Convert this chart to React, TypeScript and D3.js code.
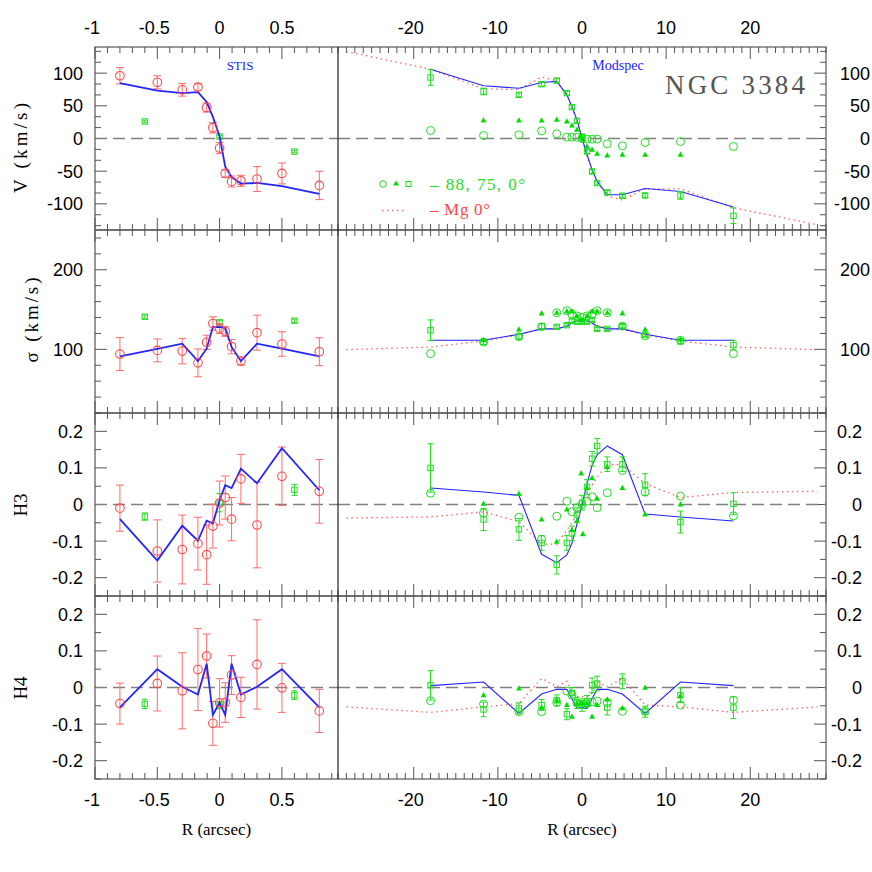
import React from 'react'
import * as d3 from 'd3'

// ---------- STIS (left column) ----------
const stisR = [-0.8, -0.5, -0.3, -0.174, -0.104, -0.054, 0, 0.045, 0.096, 0.171, 0.3, 0.5, 0.8]
const stisV = [96, 86, 74.5, 78.6, 47.4, 16.4, -14.7, -53.5, -65.7, -64.7, -62, -53.5, -71.8]
const stisVErr = [12.5, 10, 9.7, 5, 7, 8, 8.5, 5.6, 8.4, 8.4, 19, 16, 21.7]
const stisVModel = [84.7, 73.4, 69.4, 70.9, 56, 33, 3, -43, -59, -69, -68, -73, -84.6]
const stisSig = [94, 98.7, 97.8, 83, 108.9, 132.5, 126, 122.4, 103.4, 85.2, 121, 106.7, 97]
const stisSigErr = [20.7, 14.3, 16, 17.5, 8.9, 8.4, 6, 6, 9, 5, 22, 15.4, 17.5]
const stisSigModel = [91.1, 100.6, 107.2, 85.2, 100.8, 128, 128.3, 127, 103, 85.2, 107.2, 100.8, 91.1]
const stisH3 = [-0.01, -0.127, -0.123, -0.107, -0.137, -0.059, 0.004, 0.019, -0.04, 0.07, -0.056, 0.077, 0.036]
const stisH3Err = [0.063, 0.085, 0.094, 0.072, 0.081, 0.06, 0.06, 0.059, 0.059, 0.067, 0.117, 0.08, 0.087]
const stisH3Model = [-0.04, -0.153, -0.058, -0.099, -0.044, -0.052, 0.012, 0.053, 0.045, 0.098, 0.058, 0.154, 0.039]
const stisH4 = [-0.044, 0.011, -0.009, 0.049, 0.086, -0.098, -0.042, -0.041, 0.034, -0.027, 0.063, -0.001, -0.064]
const stisH4Err = [0.056, 0.075, 0.104, 0.112, 0.06, 0.06, 0.066, 0.054, 0.053, 0.055, 0.122, 0.067, 0.059]
const stisH4Model = [-0.054, 0.05, 0.002, -0.019, 0.065, -0.075, -0.041, -0.075, 0.065, -0.019, 0.002, 0.05, -0.054]

// ground-based points shown in the STIS panels
const gbR = [-0.6, 0, 0.6]
const gbV = [26, 3, -20]
const gbVErr = [2, 2, 2]
const gbSig = [141, 134, 136]
const gbSigErr = [2, 2, 2]
const gbH3 = [-0.033, 0.005, 0.04]
const gbH3Err = [0.01, 0.025, 0.015]
const gbH4 = [-0.045, -0.048, -0.021]
const gbH4Err = [0.013, 0.01, 0.012]

// ---------- Modspec (right column) ----------
// 0 deg (major axis), squares with errors, and the blue model
const modR = [-18, -11.7, -7.5, -4.8, -3.0, -1.8, -1.2, -0.6, 0, 0.6, 1.2, 1.8, 3.0, 4.8, 7.5, 11.7, 18]
const majV = [93.3, 71.9, 66.8, 83.1, 88.6, 69.4, 48, 27, 3, -19.9, -50.5, -68.2, -82.5, -87.6, -87.1, -87, -118.2]
const majVErr = [12, 5, 3, 3, 3, 3, 3, 3, 3, 3, 3, 3, 3, 3, 3, 6, 12]
const majSig = [124, 109.2, 116, 129.1, 128.3, 130.4, 135.9, 134.6, 134.6, 134.6, 137, 125.7, 125.7, 129.1, 118, 110, 105.4]
const majSigErr = [13, 3, 3, 3, 2, 2, 2, 2, 2, 2, 2, 2, 2, 2, 2, 3, 6]
const majH3 = [0.1, -0.041, -0.068, -0.105, -0.165, -0.105, -0.079, -0.029, 0.005, 0.048, 0.125, 0.16, 0.11, 0.11, 0.054, -0.048, 0.002]
const majH3Err = [0.066, 0.03, 0.03, 0.02, 0.025, 0.02, 0.02, 0.02, 0.02, 0.02, 0.02, 0.02, 0.02, 0.02, 0.03, 0.03, 0.03]
const majH4 = [0.006, -0.06, -0.057, -0.048, -0.035, -0.073, -0.015, -0.042, -0.05, -0.037, 0.006, 0.011, -0.055, 0.017, -0.066, -0.021, -0.055]
const majH4Err = [0.04, 0.02, 0.015, 0.015, 0.015, 0.015, 0.015, 0.015, 0.015, 0.015, 0.02, 0.02, 0.02, 0.02, 0.015, 0.02, 0.03]

const modVModel = [106.1, 80.6, 77, 85.7, 87.3, 66.8, 49, 28.6, 0.6, -24.9, -47.9, -65.7, -86.1, -86.1, -76.4, -81, -104.9]
const modSigModel = [111.4, 111.4, 118.9, 125.7, 125.7, 129.1, 133, 135.9, 135.9, 135.9, 133, 129.1, 125.7, 125.7, 118.9, 111.4, 111.4]
const modH3Model = [0.045, 0.034, 0.025, -0.136, -0.159, -0.138, -0.106, -0.054, -0.002, 0.057, 0.107, 0.136, 0.16, 0.136, -0.026, -0.034, -0.045]
const modH4Model = [0.005, 0.015, -0.071, -0.018, -0.005, -0.005, -0.03, -0.057, -0.055, -0.057, -0.03, -0.005, -0.005, -0.018, -0.071, 0.015, 0.005]

// 88 deg (minor axis), open circles
const minV = [12.2, 4.6, 5.6, 11.7, 7.2, 2.1, 2, 2, 0, -1, -1, -1, -8.1, -11.2, -6.1, -4.6, -12.2]
const minSig = [94.6, 109.2, 116, 128.3, 146, 148.5, 144.3, 142, 140, 142, 144.3, 148.5, 146, 129.1, 117, 111.4, 94.6]
const minH3 = [0.031, -0.023, -0.035, -0.095, -0.032, 0.009, -0.02, -0.009, 0, 0.009, 0.021, -0.009, 0.032, 0.093, 0.034, 0.023, -0.031]
const minH4 = [-0.036, -0.045, -0.066, -0.066, -0.041, -0.01, -0.02, -0.042, -0.041, -0.044, -0.039, -0.037, -0.041, -0.065, -0.065, -0.048, -0.035]

// 75 deg, filled triangles
const triR = [-11.7, -7.5, -4.8, -3.0, -1.8, -1.2, -0.6, -0.1, 0.1, 0.6, 1.2, 1.8, 3.0, 4.8, 7.5, 11.7]
const triV = [27.5, 27.5, 27.5, 28.6, 26.1, 19.9, 13.3, 4, -2, -12.2, -17.3, -23.4, -26, -25, -25, -25]
const triSig = [111.4, 124.9, 145.2, 146, 147.7, 147.7, 141.8, 136.7, 136.7, 141.8, 147.7, 147.7, 146, 145.2, 124.9, 112.4]
const triH3 = [0.002, 0.029, -0.041, -0.102, -0.014, -0.07, -0.045, 0.085, -0.081, 0.045, 0.072, 0.016, 0.102, 0.045, -0.027, 0]
const triH4 = [-0.021, -0.003, -0.055, -0.036, -0.048, -0.08, -0.044, -0.044, -0.044, -0.044, -0.08, -0.048, -0.033, -0.057, -0.001, -0.023]

// Mg model (red dotted)
const mgR = [-28, -18, -11.7, -7.5, -4.8, -3, -1.8, -1.2, -0.6, 0, 0.6, 1.2, 1.8, 3, 4.8, 7.5, 11.7, 18, 28]
const mgV = [133, 106, 76, 75, 94, 88, 66, 48, 27, 0, -27, -48, -66, -88, -94, -77, -77, -106, -132]
const mgSig = [99.6, 102.9, 110.5, 118.1, 125.7, 125.7, 130.4, 133, 135.9, 135.9, 135.9, 133, 130.4, 125.7, 125.7, 118.1, 110.5, 102.9, 99.6]
const mgH3 = [-0.037, -0.034, -0.02, -0.047, -0.108, -0.108, -0.07, -0.05, -0.025, 0, 0.03, 0.053, 0.075, 0.109, 0.109, 0.057, 0.019, 0.033, 0.036]
const mgH4 = [-0.053, -0.068, -0.053, -0.044, 0.025, 0.002, 0.017, -0.016, -0.025, -0.025, -0.025, -0.016, 0.017, 0.002, 0.025, -0.048, -0.053, -0.068, -0.053]

const leftTicks = [-1, -0.5, 0, 0.5]
const rightTicks = [-20, -10, 0, 10, 20]

// ---------- layout ----------
const X0 = 95, XD = 338, X1 = 826
const TOP = 47, PH = 183
const RED = '#ff4848'
const GREEN = '#22dd22'
const GFILL = '#00dd00'
const BLUE = '#2424ff'
const FRAME = '#555'
const SANS = 'Liberation Sans, Arial, sans-serif'
const SERIF = 'Liberation Serif, Times New Roman, serif'

const xL = d3.scaleLinear().domain([-1, 0.95]).range([X0, XD])
const xR = d3.scaleLinear().domain([-29, 29]).range([XD, X1])

const rows = [
  { title: 'V (km/s)', tx: 27, ty: 148, tl: 90, domain: [-140, 140], major: 50, minor: 50 / 3, zero: true, labelRight: 870,
    left: { y: stisV, e: stisVErr, m: stisVModel, gy: gbV, ge: gbVErr },
    right: { y: majV, e: majVErr, m: modVModel, c: minV, t: triV, mg: mgV } },
  { title: 'σ (km/s)', tx: 38, ty: 320, tl: 85, domain: [20, 250], major: 100, minor: 20, zero: false, labelRight: 870,
    left: { y: stisSig, e: stisSigErr, m: stisSigModel, gy: gbSig, ge: gbSigErr },
    right: { y: majSig, e: majSigErr, m: modSigModel, c: minSig, t: triSig, mg: mgSig } },
  { title: 'H3', tx: 27, ty: 505, tl: 0, domain: [-0.25, 0.25], major: 0.1, minor: 0.05, zero: true, labelRight: 862,
    left: { y: stisH3, e: stisH3Err, m: stisH3Model, gy: gbH3, ge: gbH3Err },
    right: { y: majH3, e: majH3Err, m: modH3Model, c: minH3, t: triH3, mg: mgH3 } },
  { title: 'H4', tx: 27, ty: 688, tl: 0, domain: [-0.25, 0.25], major: 0.1, minor: 0.05, zero: true, labelRight: 862,
    left: { y: stisH4, e: stisH4Err, m: stisH4Model, gy: gbH4, ge: gbH4Err },
    right: { y: majH4, e: majH4Err, m: modH4Model, c: minH4, t: triH4, mg: mgH4 } },
]

function steps(d0: number, d1: number, step: number) {
  const out: number[] = []
  for (let i = Math.ceil(d0 / step - 1e-9); i <= Math.floor(d1 / step + 1e-9); i++) out.push(i * step)
  return out
}
const isMajor = (v: number, major: number) => Math.abs(v / major - Math.round(v / major)) < 1e-6
const fmt = (v: number) => String(+v.toFixed(3))

function ErrBar({ x, y0, y1, cap, color, w = 1 }: any) {
  return (
    <g stroke={color} strokeWidth={w} fill="none">
      <line x1={x} x2={x} y1={y0} y2={y1} />
      <line x1={x - cap} x2={x + cap} y1={y0} y2={y0} />
      <line x1={x - cap} x2={x + cap} y1={y1} y2={y1} />
    </g>
  )
}

function XTicks({ scale, majors, minorStep, y0, y1 }: any) {
  const [d0, d1] = scale.domain()
  const all = steps(d0, d1, minorStep)
  const majorStep = majors[1] - majors[0]
  return (
    <g stroke={FRAME} strokeWidth={1}>
      {all.map((v: number, i: number) => {
        const len = isMajor(v, majorStep) ? 12 : 6
        const x = scale(v)
        return (
          <g key={i}>
            <line x1={x} x2={x} y1={y0} y2={y0 + len} />
            <line x1={x} x2={x} y1={y1} y2={y1 - len} />
          </g>
        )
      })}
    </g>
  )
}

function Row({ row, idx }: any) {
  const top = TOP + idx * PH
  const bot = top + PH
  const y = d3.scaleLinear().domain(row.domain).range([bot, top])
  const lineL = d3.line<number>().x((_, i) => xL(stisR[i])).y(d => y(d))
  const lineR = d3.line<number>().x((_, i) => xR(modR[i])).y(d => y(d))
  const lineMg = d3.line<number>().x((_, i) => xR(mgR[i])).y(d => y(d))
  const yt = steps(row.domain[0], row.domain[1], row.minor)
  const L = row.left
  const R = row.right
  const clipL = `clipL${idx}`
  const clipR = `clipR${idx}`
  return (
    <g>
      <defs>
        <clipPath id={clipL}><rect x={X0} y={top} width={XD - X0} height={PH} /></clipPath>
        <clipPath id={clipR}><rect x={XD} y={top} width={X1 - XD} height={PH} /></clipPath>
      </defs>

      {/* ticks */}
      <XTicks scale={xL} majors={leftTicks} minorStep={0.1} y0={top} y1={bot} />
      <XTicks scale={xR} majors={rightTicks} minorStep={1} y0={top} y1={bot} />
      <g stroke={FRAME} strokeWidth={1}>
        {yt.map((v, i) => {
          const len = isMajor(v, row.major) ? 12 : 6
          const yy = y(v)
          return (
            <g key={i}>
              <line x1={X0} x2={X0 + len} y1={yy} y2={yy} />
              <line x1={X1} x2={X1 - len} y1={yy} y2={yy} />
            </g>
          )
        })}
      </g>
      <g fontFamily={SANS} fontSize={18} fill="#000">
        {yt.filter(v => isMajor(v, row.major)).map((v, i) => (
          <g key={i}>
            <text x={83} y={y(v) + 6.5} textAnchor="end">{fmt(v)}</text>
            <text x={row.labelRight} y={y(v) + 6.5} textAnchor="end">{fmt(v)}</text>
          </g>
        ))}
      </g>
      <text transform={`translate(${row.tx},${row.ty}) rotate(-90)`} textAnchor="middle"
        fontFamily={SERIF} fontSize={19} fill="#000"
        {...(row.tl ? { textLength: row.tl, lengthAdjust: 'spacing' } : {})}>{row.title}</text>

      {/* zero lines */}
      {row.zero && (
        <g stroke="#808080" strokeWidth={1.6} strokeDasharray="12 6">
          <line x1={X0} x2={XD} y1={y(0)} y2={y(0)} />
          <line x1={XD} x2={X1} y1={y(0)} y2={y(0)} />
        </g>
      )}

      {/* STIS panel */}
      <g clipPath={`url(#${clipL})`}>
        {gbR.map((r, i) => (
          <g key={'g' + i}>
            <ErrBar x={xL(r)} y0={y(L.gy[i] + L.ge[i])} y1={y(L.gy[i] - L.ge[i])} cap={3} color={GREEN} />
            <rect x={xL(r) - 2.7} y={y(L.gy[i]) - 2.7} width={5.4} height={5.4} fill="none" stroke={GREEN} strokeWidth={1} />
          </g>
        ))}
        {stisR.map((r, i) => (
          <ErrBar key={'e' + i} x={xL(r)} y0={y(L.y[i] + L.e[i])} y1={y(L.y[i] - L.e[i])} cap={4} color="#ff6a6a" />
        ))}
        <path d={lineL(L.m) || ''} fill="none" stroke={BLUE} strokeWidth={1.8} />
        {stisR.map((r, i) => (
          <circle key={'c' + i} cx={xL(r)} cy={y(L.y[i])} r={4.3} fill="none" stroke={RED} strokeWidth={1.1} />
        ))}
      </g>

      {/* Modspec panel */}
      <g clipPath={`url(#${clipR})`}>
        <path d={lineMg(R.mg) || ''} fill="none" stroke="#ff5a5a" strokeWidth={1.3} strokeDasharray="1.4 3.6" />
        <path d={lineR(R.m) || ''} fill="none" stroke={BLUE} strokeWidth={1.1} />
        {modR.map((r, i) => (
          <g key={'s' + i}>
            <ErrBar x={xR(r)} y0={y(R.y[i] + R.e[i])} y1={y(R.y[i] - R.e[i])} cap={3} color={GREEN} />
            <rect x={xR(r) - 2.7} y={y(R.y[i]) - 2.7} width={5.4} height={5.4} fill="none" stroke={GREEN} strokeWidth={1} />
          </g>
        ))}
        {modR.map((r, i) => (
          <circle key={'o' + i} cx={xR(r)} cy={y(R.c[i])} r={4} fill="none" stroke={GREEN} strokeWidth={1} />
        ))}
        {triR.map((r, i) => {
          const cx = xR(r), cy = y(R.t[i])
          return <path key={'t' + i} d={`M${cx},${cy - 3.3}L${cx + 2.9},${cy + 2}L${cx - 2.9},${cy + 2}Z`} fill={GFILL} />
        })}
      </g>

      {/* frame */}
      <rect x={X0} y={top} width={X1 - X0} height={PH} fill="none" stroke={FRAME} strokeWidth={1.2} />
    </g>
  )
}

export default function App() {
  const bottom = TOP + 4 * PH
  return (
    <svg width={872} height={872} style={{ position: 'absolute', left: 0, top: 0, display: 'block', background: '#fff' }}>
      {rows.map((row, i) => <Row key={i} row={row} idx={i} />)}
      <line x1={XD} x2={XD} y1={TOP} y2={bottom} stroke="#222" strokeWidth={1.2} />

      {/* x tick labels, top and bottom */}
      <g fontFamily={SANS} fontSize={18} fill="#000" textAnchor="middle">
        {leftTicks.map((v, i) => (
          <g key={'l' + i}>
            <text x={xL(v) - (v < 0 ? 3 : 0)} y={34}>{fmt(v)}</text>
            <text x={xL(v) - (v < 0 ? 3 : 0)} y={806}>{fmt(v)}</text>
          </g>
        ))}
        {rightTicks.map((v, i) => (
          <g key={'r' + i}>
            <text x={xR(v) - (v < 0 ? 3 : 0)} y={34}>{fmt(v)}</text>
            <text x={xR(v) - (v < 0 ? 3 : 0)} y={806}>{fmt(v)}</text>
          </g>
        ))}
      </g>
      <g fontFamily={SERIF} fontSize={17} fill="#000" textAnchor="middle">
        <text x={(X0 + XD) / 2} y={835}>R (arcsec)</text>
        <text x={(XD + X1) / 2} y={835}>R (arcsec)</text>
      </g>

      {/* panel labels */}
      <text x={240} y={70} textAnchor="middle" fontFamily={SERIF} fontSize={13} fill={BLUE}>STIS</text>
      <text x={618} y={70} textAnchor="middle" fontFamily={SERIF} fontSize={14} fill={BLUE}>Modspec</text>
      <text x={665} y={94} fontFamily={SERIF} fontSize={27} fill="#555" textLength={140}>NGC 3384</text>

      {/* legend */}
      <circle cx={383} cy={184} r={3.3} fill="none" stroke={GREEN} strokeWidth={1} />
      <path d="M396,180.5L399,185.5L393,185.5Z" fill={GFILL} />
      <rect x={406} y={181.5} width={5} height={5} fill="none" stroke={GREEN} strokeWidth={1} />
      <text x={430} y={190} fontFamily={SERIF} fontSize={17} fill={GREEN} textLength={95} lengthAdjust="spacing">– 88, 75, 0°</text>
      <line x1={382} x2={406} y1={210.5} y2={210.5} stroke="#ff6a6a" strokeWidth={1.3} strokeDasharray="1.4 3.6" />
      <text x={430} y={215} fontFamily={SERIF} fontSize={17} fill={RED} textLength={60} lengthAdjust="spacing">– Mg 0°</text>
    </svg>
  )
}
